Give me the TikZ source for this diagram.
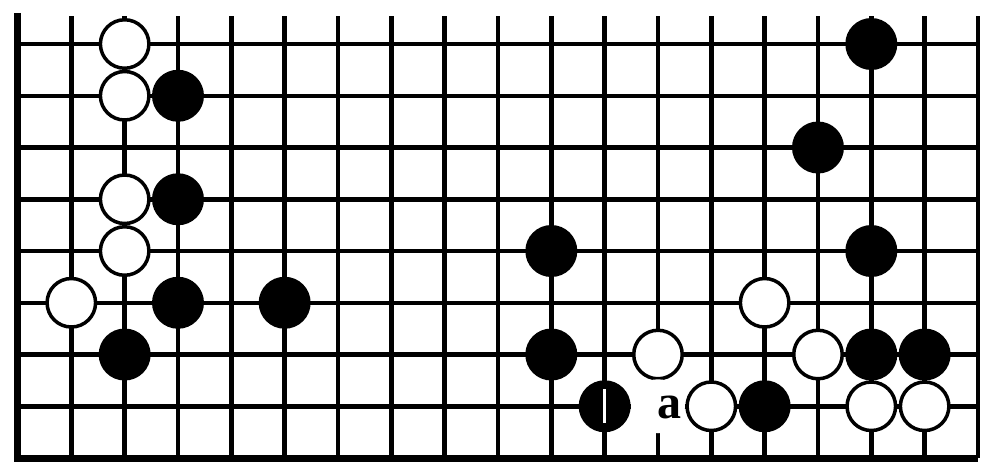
\documentclass[tikz,border=0pt]{standalone}
\usepackage{fontspec}
\setmainfont{Liberation Serif}
\begin{document}
\begin{tikzpicture}[x=53.33pt,y=-51.75pt,
  gridline/.style={line width=4.5pt},
  edgeline/.style={line width=7pt,line join=miter},
  wst/.style={circle,draw=black,fill=white,line width=3.5pt,minimum size=48.5pt,inner sep=0pt},
  bst/.style={circle,fill=black,minimum size=52pt,inner sep=0pt},
  clearspot/.style={circle,fill=white,minimum size=54pt,inner sep=0pt},
  marklabel/.style={font=\fontsize{48}{48}\selectfont\bfseries,inner sep=0pt}
]
\useasboundingbox (-0.3375,-0.8502) rectangle (18.113,8.116);
% grid
\foreach \c in {1,...,18} \draw[gridline] (\c,-0.54) -- (\c,8);
\foreach \r in {0,...,7} \draw[gridline] (0,\r) -- (18,\r);
\draw[edgeline] (0,-0.6) -- (0,8) -- (18,8);
% white stones
\foreach \n/\c/\r in {w1/2/0, w2/2/1, w3/2/3, w4/2/4, w5/1/5, w6/12/6, w7/14/5, w8/15/6, w9/13/7, w10/16/7, w11/17/7}
  \node[wst] (\n) at (\c,\r) {};
% black stones
\foreach \n/\c/\r in {b1/3/1, b2/3/3, b3/3/5, b4/5/5, b5/2/6, b6/10/4, b7/10/6, b8/11/7, b9/14/7, b10/16/6, b11/17/6, b12/16/4, b13/16/0, b14/15/2}
  \node[bst] (\n) at (\c,\r) {};
% mark on stone b8
\draw[white,line width=3pt] ([yshift=17pt]b8.center) -- ([yshift=-17pt]b8.center);
% label a
\node[clearspot] (aspot) at (12,7) {};
\node[marklabel] (alab) at (12.22,7.02) {a};
\end{tikzpicture}
\end{document}
